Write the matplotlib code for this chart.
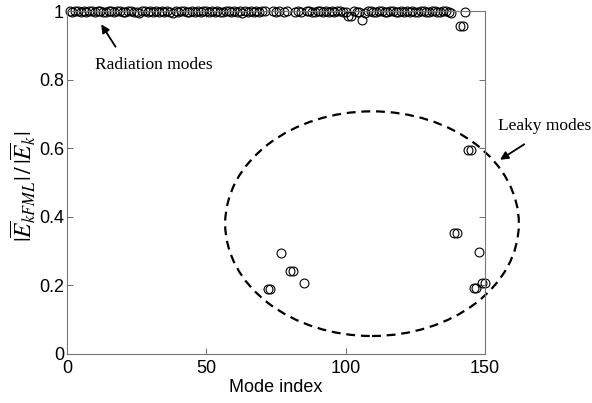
import matplotlib
matplotlib.use('Agg')
from matplotlib import pyplot as plt
from matplotlib.patches import Ellipse
import numpy as np

plt.rcParams['mathtext.fontset'] = 'stix'

# radiation modes (index, |E_kFML|/|E_k|)
rad_idx = list(range(1, 72)) + [74, 75, 76, 78, 79, 82, 83, 84] + list(range(86, 139)) + [143]
rad_val = [1.0, 0.998, 1.0, 0.999, 0.997, 1.0, 0.998, 0.999, 1.0, 0.997,
           0.999, 1.0, 0.998, 0.996, 0.999, 1.0, 0.998, 0.999, 1.0, 0.997,
           0.998, 1.0, 0.999, 0.996, 0.998, 0.995, 0.999, 1.0, 0.997, 0.999,
           0.998, 1.0, 0.996, 0.999, 0.998, 1.0, 0.997, 0.995, 0.999, 0.998,
           1.0, 0.999, 0.996, 0.998, 1.0, 0.997, 0.999, 0.998, 1.0, 0.999,
           0.997, 1.0, 0.998, 0.999, 0.996, 0.998, 1.0, 0.999, 0.997, 1.0,
           0.998, 0.999, 0.995, 1.0, 0.998, 0.999, 0.997, 1.0, 0.998, 0.999,
           1.0,
           0.999, 0.997, 1.0, 0.998, 0.999, 0.998, 1.0, 0.997,
           0.999, 1.0, 0.998, 0.997, 0.999, 1.0, 0.998, 0.999, 0.996, 1.0,
           0.998, 0.999, 1.0, 0.997, 0.998, 0.985, 0.987, 0.999, 0.998, 0.996,
           0.975, 0.994, 0.999, 1.0, 0.998, 0.996, 0.999, 1.0, 0.997, 0.998,
           0.999, 1.0, 0.996, 0.998, 0.999, 0.997, 1.0, 0.998, 0.999, 0.996,
           0.998, 1.0, 0.999, 0.997, 0.998, 1.0, 0.999, 0.998, 0.997, 1.0,
           0.999, 0.998, 0.994,
           0.996]

# leaky modes
leaky_idx = [72, 73, 77, 80, 81, 85, 139, 140, 141, 142, 144, 145, 146, 147, 148, 149, 150]
leaky_val = [0.19, 0.19, 0.295, 0.243, 0.243, 0.208, 0.353, 0.353, 0.957, 0.957,
             0.595, 0.595, 0.193, 0.193, 0.298, 0.208, 0.208]

idx = np.array(rad_idx + leaky_idx)
val = np.array(rad_val + leaky_val)

fig = plt.figure(figsize=(5.92, 4.03), dpi=100)
ax = fig.add_axes([0.113, 0.1216, 0.706, 0.851])

ax.plot(idx, val, 'o', mfc='none', mec='black', ms=6.4, mew=0.8, clip_on=False)

ell = Ellipse((109.5, 0.38), 105.4, 0.655, fill=False, ls=(0, (4, 2.6)), lw=1.6,
              ec='black', clip_on=False)
ax.add_patch(ell)

ax.set_xlim(0, 150)
ax.set_ylim(0, 1)
ax.set_xticks([0, 50, 100, 150])
ax.set_yticks([0, 0.2, 0.4, 0.6, 0.8, 1])
ax.set_yticklabels(['0', '0.2', '0.4', '0.6', '0.8', '1'])
ax.tick_params(direction='in', length=4, width=0.6, color='#555555', top=True, right=True,
               labelsize=13, pad=2)
ax.tick_params(axis='x', pad=4)
for lab in ax.get_xticklabels() + ax.get_yticklabels():
  lab.set_family('Liberation Sans')
for sp in ax.spines.values():
  sp.set_color('#777777')
  sp.set_linewidth(0.8)

ax.set_xlabel('Mode index', family='Liberation Sans', fontsize=13, labelpad=2)
ax.set_ylabel(r'$|\overline{E}_{kFML}|\,/\,|\overline{E}_k|$', fontsize=17, labelpad=0)
ax.yaxis.set_label_coords(-0.068, 0.49)

ax.annotate('Radiation modes', xy=(11.8, 0.968), xytext=(10, 0.842), textcoords='data',
            family='Liberation Serif', fontsize=12.5, va='center', ha='left')
ax.annotate('', xy=(11.8, 0.968), xytext=(18, 0.889),
            arrowprops=dict(arrowstyle='-|>', color='black', lw=1.3, mutation_scale=12))
ax.annotate('Leaky modes', xy=(154.6, 0.664), family='Liberation Serif', fontsize=12.5,
            va='center', ha='left', annotation_clip=False)
ax.annotate('', xy=(154.6, 0.562), xytext=(165, 0.616), annotation_clip=False,
            arrowprops=dict(arrowstyle='-|>', color='black', lw=1.3, mutation_scale=12))

plt.savefig('out.png', dpi=100)
